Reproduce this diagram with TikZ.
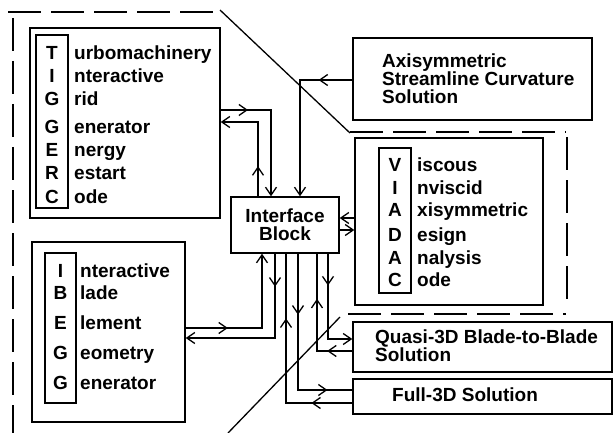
\documentclass[tikz,border=0pt]{standalone}
\usepackage{fontspec}
\setmainfont{Liberation Sans}
\usetikzlibrary{arrows.meta, decorations.markings, positioning}
\tikzstyle{outerbox} = [rectangle, draw=black, line width=1.4pt, inner sep=0pt]
\tikzstyle{keybox} = [rectangle, draw=black, line width=1.2pt, inner sep=0pt]
\tikzstyle{txt} = [inner sep=0pt, font=\bfseries\fontsize{19}{18}\selectfont, align=left]
\tikzstyle{letter} = [txt, anchor=base]
\tikzstyle{word} = [txt, anchor=base west]
\tikzstyle{wire} = [draw, line width=1.3pt]
\tikzstyle{endtip} = [-{Straight Barb[length=8pt,width=11pt]}]
\tikzstyle{bound} = [draw, line width=1.3pt, dash pattern=on 33pt off 10pt]
\tikzset{midarrow/.style={postaction={decorate, decoration={markings, mark=at position #1 with {\arrow{Straight Barb[length=8pt,width=11pt]}}}}}}

\begin{document}
\begin{tikzpicture}[x=1pt, y=-1pt]
    \useasboundingbox (0,0) rectangle (613,433);
    % Boundary
    \path [bound] (8,12) -- (220,12);
    \draw [line width=1.3pt] (220,10) -- (350,133);
    \path [bound] (350,132) -- (566,132);
    \path [bound] (567,137) -- (567,300);
    \path [bound] (348,314) -- (566,314);
    \draw [line width=1.3pt] (340,317) -- (228,433);
    \path [bound] (13,18) -- (13,433);

    % Nodes
    \node [outerbox, minimum width=190, minimum height=190] (tiggerc) at (125,123) {};
    \node [keybox, minimum width=32, minimum height=173] (tiggerc-key) at (52,121.5) {};
    \foreach \l/\w/\y [count=\i] in {T/urbomachinery/53, I/nteractive/76, G/rid/99, G/enerator/127, E/nergy/150, R/estart/173, C/ode/197} {
        \node [letter] (tl\i) at (52,\y+6.5) {\l};
        \node [word] (tw\i) at (74,\y+6.5) {\w};
    }
    \node [outerbox, minimum width=153, minimum height=180] (ibegg) at (108.5,332) {};
    \node [keybox, minimum width=31, minimum height=150] (ibegg-key) at (60.5,328) {};
    \foreach \l/\w/\y [count=\i] in {I/nteractive/271, B/lade/293, E/lement/323, G/eometry/353, G/enerator/383} {
        \node [letter] (il\i) at (60.5,\y+6.5) {\l};
        \node [word] (iw\i) at (80,\y+6.5) {\w};
    }
    \node [outerbox, minimum width=188, minimum height=167] (viadac) at (449,221.5) {};
    \node [keybox, minimum width=32, minimum height=145] (viadac-key) at (395,220.5) {};
    \foreach \l/\w/\y [count=\i] in {V/iscous/165, I/nviscid/188, A/xisymmetric/210, D/esign/235, A/nalysis/258, C/ode/280} {
        \node [letter] (vl\i) at (395,\y+6.5) {\l};
        \node [word] (vw\i) at (417,\y+6.5) {\w};
    }
    \node [outerbox, txt, align=center, minimum width=108, minimum height=56] (iface) at (285,225) {Interface\\Block};
    \node [outerbox, minimum width=239, minimum height=82] (axi) at (472.5,79) {};
    \node [txt, anchor=west] (axi-text) at (382,79) {Axisymmetric\\Streamline Curvature\\Solution};
    \node [outerbox, minimum width=259, minimum height=50] (quasi) at (482.5,347) {};
    \node [txt, anchor=west] (quasi-text) at (375,346) {Quasi-3D Blade-to-Blade\\Solution};
    \node [outerbox, minimum width=259, minimum height=35] (full) at (482.5,396.5) {};
    \node [txt, anchor=west] (full-text) at (392,395) {Full-3D Solution};

    % Edges
    \path [wire, endtip, midarrow=0.2] (tiggerc.east |- 0,110) -| (iface.north -| 271,0);
    \path [wire, endtip, midarrow=0.27] (iface.north -| 258,0) |- (tiggerc.east |- 0,122);
    \path [wire, endtip, midarrow=0.2] (axi.west |- 0,80) -| (iface.north -| 300,0);
    \path [wire, endtip] (viadac.west |- 0,218) -- (iface.east |- 0,218);
    \path [wire, endtip] (iface.east |- 0,230) -- (viadac.west |- 0,230);
    \path [wire, endtip, midarrow=0.28] (ibegg.east |- 0,328) -| (iface.south -| 262,0);
    \path [wire, endtip, midarrow=0.19] (iface.south -| 275,0) |- (ibegg.east |- 0,338);
    \path [wire, endtip, midarrow=0.29] (iface.south -| 328,0) |- (quasi.west |- 0,339);
    \path [wire, midarrow=0.19, midarrow=0.66] (quasi.west |- 0,351) -| (iface.south -| 317,0);
    \path [wire, midarrow=0.32, midarrow=0.87] (iface.south -| 298,0) |- (full.west |- 0,390);
    \path [wire, midarrow=0.19, midarrow=0.7] (full.west |- 0,403) -| (iface.south -| 286,0);
\end{tikzpicture}
\end{document}
